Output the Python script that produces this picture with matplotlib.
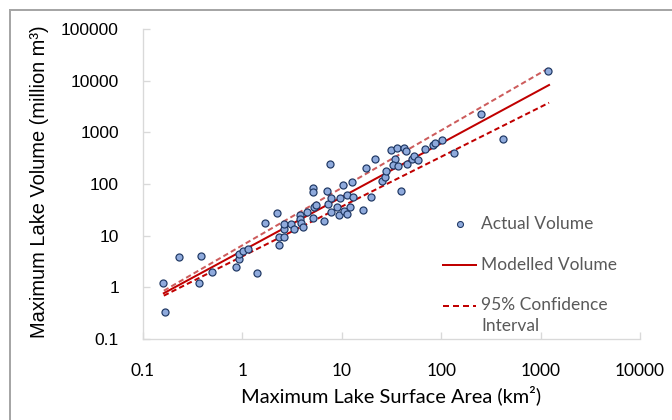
import matplotlib
matplotlib.use('Agg')
import matplotlib.pyplot as plt
from matplotlib.lines import Line2D
from matplotlib.patches import Rectangle

# Actual data (surface area km2, volume million m3)
area = [0.160, 0.167, 0.232, 0.386, 0.368, 0.498, 0.863, 0.925, 0.925, 1.01,
        1.14, 1.39, 1.69, 2.25, 2.32, 2.35, 2.62, 2.62, 2.62, 3.05,
        3.27, 3.82, 3.80, 3.87, 4.03, 4.50, 5.17, 5.29, 5.44, 5.17,
        5.17, 6.62, 7.15, 7.31, 7.84, 7.84, 8.95, 9.59, 9.41, 7.61,
        10.3, 12.7, 11.4, 13.0, 12.1, 10.6, 11.3, 16.2, 19.5, 17.5,
        21.5, 25.4, 26.9, 27.9, 31.0, 35.7, 42.1, 44.0, 34.1, 33.1,
        36.6, 45.1, 50.5, 53.0, 58.2, 39.2, 69.5, 82.7, 86.0, 103,
        135, 252, 416, 1192]
volume = [1.24, 0.330, 3.86, 4.04, 1.24, 2.01, 2.47, 3.57, 4.42, 5.05,
          5.57, 1.92, 17.3, 27.1, 6.68, 9.42, 9.42, 13.3, 16.7, 16.7,
          13.3, 25.3, 21.2, 17.6, 14.6, 28.1, 21.7, 35.6, 38.9, 82.6,
          69.3, 19.2, 72.2, 40.4, 52.8, 28.7, 35.4, 52.8, 24.9, 249,
          94.8, 108, 59.9, 56.0, 35.4, 29.4, 26.0, 31.4, 55.5, 208,
          309, 112, 135, 182, 461, 504, 504, 441, 309, 236,
          226, 249, 300, 353, 295, 73.1, 482, 576, 608, 719,
          407, 2282, 753, 15160]

# Fitted model and 95% confidence bounds (end points, straight in log-log)
model_area = [0.162, 1216]
model_volume = [0.77, 8240]
upper_volume = [0.86, 17600]
lower_volume = [0.69, 3740]

x_ticks = [0.1, 1, 10, 100, 1000, 10000]
x_tick_labels = ['0.1', '1', '10', '100', '1000', '10000']
y_ticks = [0.1, 1, 10, 100, 1000, 10000, 100000]
y_tick_labels = ['0.1', '1', '10', '100', '1000', '10000', '100000']

legend_labels = ['Actual Volume', 'Modelled Volume', '95% Confidence', 'Interval']

W, H = 672, 420
fig = plt.figure(figsize=(W / 96, H / 96), dpi=96)
fig.patch.set_facecolor('white')
ax = fig.add_axes([143 / W, 1 - 339 / H, (640 - 143) / W, (339 - 29) / H])
ax.set_xscale('log')
ax.set_yscale('log')
ax.set_xlim(0.1, 10000)
ax.set_ylim(0.1, 100000)

ax.plot(model_area, upper_volume, color='#CD5C5C', lw=1.5, dashes=(2.7, 1.6), zorder=2)
ax.plot(model_area, lower_volume, color='#C00000', lw=1.5, dashes=(2.7, 1.6), zorder=2)
ax.plot(model_area, model_volume, color='#C00000', lw=1.5, zorder=2)
ax.scatter(area, volume, s=28, facecolor='#8FAADC', edgecolor='#1F3864',
           linewidths=0.9, zorder=3)

for s in ['top', 'right']:
    ax.spines[s].set_visible(False)
for s in ['left', 'bottom']:
    ax.spines[s].set_color('#D9D9D9')
    ax.spines[s].set_linewidth(1.0)

ax.set_xticks(x_ticks)
ax.set_xticklabels(x_tick_labels)
ax.set_yticks(y_ticks)
ax.set_yticklabels(y_tick_labels)
ax.minorticks_off()
ax.tick_params(axis='both', direction='in', length=5, width=1.0, color='#D9D9D9')
ax.tick_params(axis='x', pad=18, labelsize=13, labelcolor='#000000')
ax.tick_params(axis='y', pad=18, labelsize=13, labelcolor='#000000')
for lab in ax.get_xticklabels():
    lab.set_fontfamily('Lato')
for lab in ax.get_yticklabels():
    lab.set_fontfamily('Liberation Sans')

ax.set_xlabel('Maximum Lake Surface Area (km²)', fontsize=15, family='Lato', va='center')
ax.xaxis.set_label_coords(391 / W, 1 - 395 / H, transform=fig.transFigure)
ax.set_ylabel('Maximum Lake Volume (million m³)', fontsize=15, family='Liberation Sans',
              va='center')
ax.yaxis.set_label_coords(40 / W, 1 - 182 / H, transform=fig.transFigure)

# Legend (drawn inside the plot area, Excel style)
tf = fig.transFigure
fig.add_artist(Line2D([460 / W], [1 - 224 / H], transform=tf, ls='none', marker='o',
                      markersize=4.5, markerfacecolor='#8FAADC', markeredgecolor='#1F3864',
                      markeredgewidth=0.8))
fig.add_artist(Line2D([443 / W, 476 / W], [1 - 265 / H] * 2, transform=tf,
                      color='#C00000', lw=1.5))
fig.add_artist(Line2D([443 / W, 476 / W], [1 - 306 / H] * 2, transform=tf,
                      color='#C00000', lw=1.5, dashes=(3.0, 2.0)))
for lab, yy in zip(legend_labels, [224, 265, 305, 326]):
    fig.text(481 / W, 1 - yy / H, lab, ha='left', va='center', fontsize=13,
             family='Lato', color='#595959')

fig.add_artist(Rectangle((10 / W, -0.1), 1.5, 1.1 - 10 / H, transform=tf,
                         fill=False, edgecolor='#A6A6A6', lw=1.5))

fig.savefig('out.png', dpi=96)
